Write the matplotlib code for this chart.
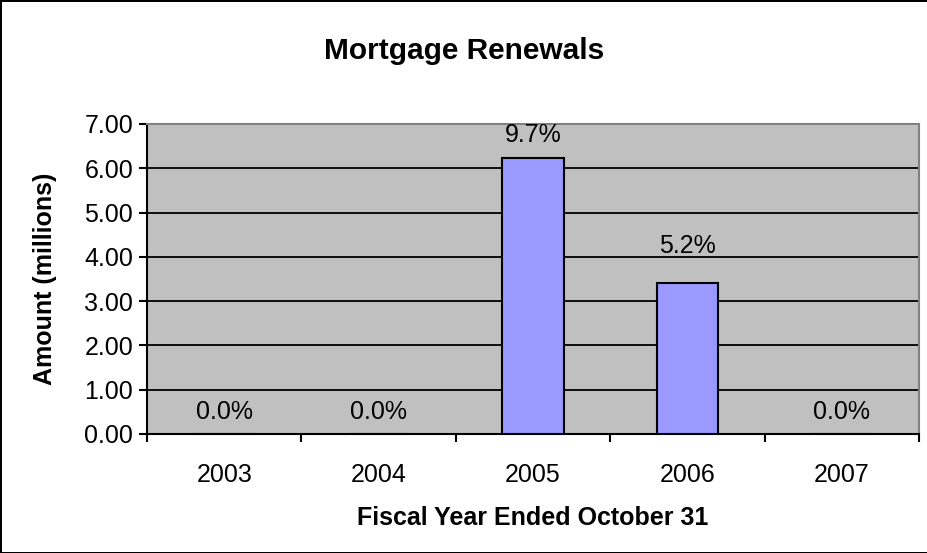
import matplotlib.pyplot as plt
import numpy as np

years = ["2003", "2004", "2005", "2006", "2007"]
amounts = [0.0, 0.0, 6.24, 3.40, 0.0]
pct_labels = ["0.0%", "0.0%", "9.7%", "5.2%", "0.0%"]
yticks = [0, 1, 2, 3, 4, 5, 6, 7]

plt.rcParams["font.family"] = ["Liberation Sans", "DejaVu Sans"]

fig = plt.figure(figsize=(9.28, 5.53), dpi=100)
fig.patch.set_edgecolor("black")
fig.patch.set_linewidth(2)

ax = fig.add_axes([0.1584, 0.2152, 0.8319, 0.5606])
ax.set_facecolor("#C0C0C0")

x = np.arange(len(years))
ax.bar(x, amounts, width=0.4, color="#9999FF", edgecolor="black",
       linewidth=1.5, zorder=3)

# label offsets in points above the bar top
offsets = [16, 16, 16, 27, 16]
for xi, v, lab, off in zip(x, amounts, pct_labels, offsets):
    ax.annotate(lab, (xi, v), xytext=(0, off), textcoords="offset points",
                ha="center", va="center", fontsize=18, zorder=4)

ax.set_xlim(-0.5, len(years) - 0.5)
ax.set_ylim(0, 7)
ax.set_yticks(yticks)
ax.set_yticklabels([f"{t:.2f}" for t in yticks])
ax.yaxis.grid(True, color="black", linewidth=1.3, zorder=1)
ax.set_axisbelow(True)

ax.set_xticks(np.arange(len(years) + 1) - 0.5)
ax.set_xticklabels([])
ax.set_xticks(x, minor=True)
ax.set_xticklabels(years, minor=True)
ax.tick_params(axis="x", which="minor", length=0, pad=21, labelsize=18)
ax.tick_params(axis="x", which="major", length=6, width=1.5, direction="out")
ax.tick_params(axis="y", length=6, width=1.5, direction="out", labelsize=18, pad=4)

for s in ["left", "bottom"]:
    ax.spines[s].set_color("black")
    ax.spines[s].set_linewidth(1.5)
for s in ["top", "right"]:
    ax.spines[s].set_color("#808080")
    ax.spines[s].set_linewidth(1.5)

ax.set_xlabel("Fiscal Year Ended October 31", fontsize=18, fontweight="bold")
ax.xaxis.label.set_va("center")
ax.xaxis.set_label_coords(0.5, -(518 - 434) / 310)
ax.set_ylabel("Amount (millions)", fontsize=18, fontweight="bold")
ax.yaxis.label.set_va("center")
ax.yaxis.set_label_coords(-(147 - 45) / 772, 0.5)
fig.text(0.5, 1 - 51 / 553, "Mortgage Renewals", ha="center", va="center",
         fontsize=21.5, fontweight="bold")

fig.savefig("out.png", dpi=100, edgecolor=fig.get_edgecolor())
